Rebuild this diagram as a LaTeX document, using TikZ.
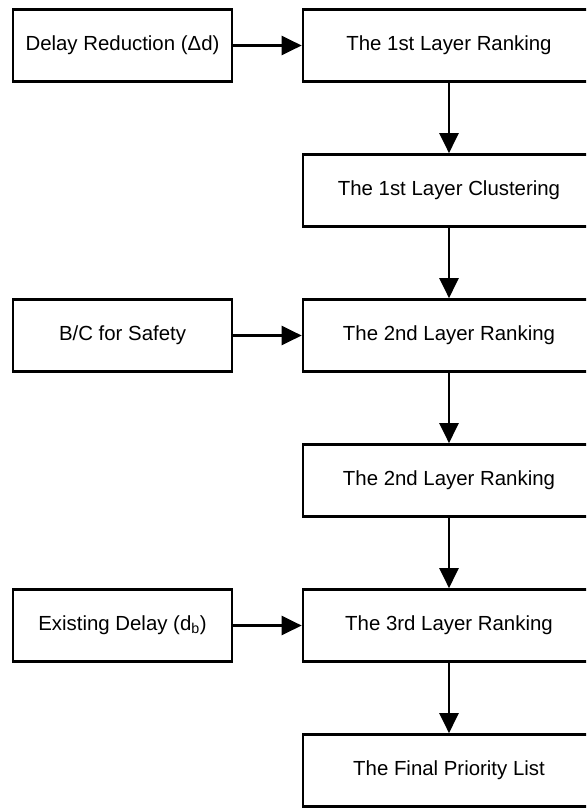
\documentclass[tikz,border=0pt]{standalone}
\usepackage{fontspec}
\setmainfont{Liberation Sans}
\usetikzlibrary{arrows.meta}
\begin{document}
\begin{tikzpicture}[x=1pt,y=-1pt,
  box/.style={draw=black, line width=2.7pt, minimum height=72pt, inner sep=0pt,
    font=\fontsize{20.4}{24}\selectfont, anchor=center},
  inbox/.style={box, minimum width=219pt},
  stagebox/.style={box, minimum width=292pt},
  flow/.style={line width=2.7pt, -{Triangle[length=20pt,width=19pt]}}]
\useasboundingbox (0,0) rectangle (586,808);
\clip (0,0) rectangle (586,808);
% main column of stages
\node[stagebox] (r1) at (449,45.5)  {The 1st Layer Ranking};
\node[stagebox] (r2) at (449,190.5) {The 1st Layer Clustering};
\node[stagebox] (r3) at (449,335.5) {The 2nd Layer Ranking};
\node[stagebox] (r4) at (449,480.5) {The 2nd Layer Ranking};
\node[stagebox] (r5) at (449,625.5) {The 3rd Layer Ranking};
\node[stagebox] (r6) at (449,770.5) {The Final Priority List};
% inputs on the left
\node[inbox] (i1) at (122.5,45.5)  {Delay Reduction (Δd)};
\node[inbox] (i3) at (122.5,335.5) {B/C for Safety};
\node[inbox] (i5) at (122.5,625.5) {Existing Delay (d\textsubscript{b})};
% connectors
\draw[flow] (i1) -- (r1);
\draw[flow] (i3) -- (r3);
\draw[flow] (i5) -- (r5);
\draw[flow] (r1) -- (r2);
\draw[flow] (r2) -- (r3);
\draw[flow] (r3) -- (r4);
\draw[flow] (r4) -- (r5);
\draw[flow] (r5) -- (r6);
\end{tikzpicture}
\end{document}
